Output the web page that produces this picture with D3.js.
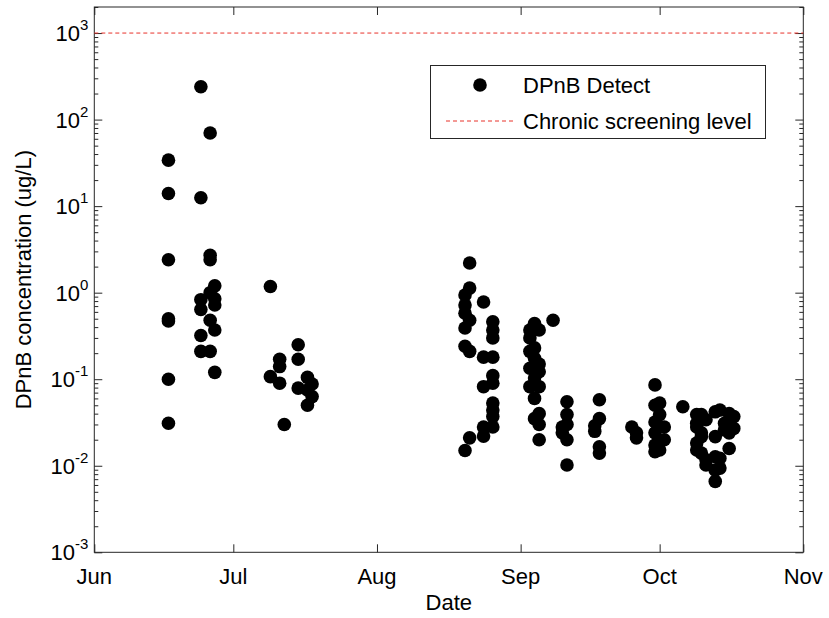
<!DOCTYPE html>
<html>
<head>
<meta charset="utf-8">
<script src="https://cdn.jsdelivr.net/npm/d3@7"></script>
<style>
  html, body { margin: 0; padding: 0; background: #fff; }
  svg { display: block; font-family: "Liberation Sans", Arial, Helvetica, sans-serif; }
</style>
</head>
<body>
<svg id="chart" width="829" height="618"></svg>
<script>
// Sampling dates and the DPnB detections measured on each date (ug/L)
const sampleDates = [
  "2014-06-17", "2014-06-24", "2014-06-26", "2014-06-27",
  "2014-07-09", "2014-07-11", "2014-07-12", "2014-07-15", "2014-07-17", "2014-07-18",
  "2014-08-20", "2014-08-21", "2014-08-24", "2014-08-26",
  "2014-09-03", "2014-09-04", "2014-09-05", "2014-09-08", "2014-09-10", "2014-09-11",
  "2014-09-17", "2014-09-18", "2014-09-25", "2014-09-26", "2014-09-30",
  "2014-10-01", "2014-10-02", "2014-10-06", "2014-10-09", "2014-10-10", "2014-10-11",
  "2014-10-13", "2014-10-14", "2014-10-15", "2014-10-16", "2014-10-17"
];
const detectsByDate = [
  [34, 14, 2.4, 0.50, 0.47, 0.10, 0.031],
  [240, 12.5, 0.83, 0.64, 0.32, 0.21],
  [70, 2.7, 2.4, 1.0, 0.48, 0.21],
  [1.2, 0.85, 0.72, 0.37, 0.12],
  [1.18, 0.107],
  [0.17, 0.14, 0.09],
  [0.03],
  [0.25, 0.17, 0.079],
  [0.105, 0.075, 0.050],
  [0.088, 0.063],
  [0.94, 0.72, 0.58, 0.39, 0.24, 0.015],
  [2.2, 1.13, 0.48, 0.21, 0.021],
  [0.78, 0.18, 0.082, 0.028, 0.022],
  [0.46, 0.37, 0.30, 0.18, 0.11, 0.09, 0.053, 0.044, 0.037, 0.028],
  [0.37, 0.30, 0.21, 0.134, 0.082],
  [0.44, 0.23, 0.175, 0.103, 0.06, 0.035],
  [0.37, 0.15, 0.122, 0.082, 0.04, 0.03, 0.02],
  [0.48],
  [0.028, 0.024],
  [0.055, 0.039, 0.03, 0.02, 0.0102],
  [0.029, 0.025],
  [0.058, 0.035, 0.0166, 0.014],
  [0.028],
  [0.024, 0.021],
  [0.086, 0.05, 0.032, 0.024, 0.0174, 0.0145],
  [0.053, 0.039, 0.0152],
  [0.028, 0.02],
  [0.048],
  [0.039, 0.031, 0.028, 0.0183, 0.0152],
  [0.039, 0.024, 0.0217, 0.014],
  [0.034, 0.0117, 0.0102],
  [0.042, 0.0217, 0.0127, 0.0089, 0.0066],
  [0.044, 0.0122, 0.0094],
  [0.031, 0.026],
  [0.040, 0.024, 0.0158],
  [0.037, 0.027]
];

// Chronic screening level (ug/L)
const screeningLevel = [1000];

// Axis ticks
const monthTicks = ["2014-06-01", "2014-07-01", "2014-08-01", "2014-09-01", "2014-10-01", "2014-11-01"];
const monthLabels = ["Jun", "Jul", "Aug", "Sep", "Oct", "Nov"];
const decadeExponents = [-3, -2, -1, 0, 1, 2, 3];

const legendLabels = ["DPnB Detect", "Chronic screening level"];
const axisTitles = { x: "Date", y: "DPnB concentration (ug/L)" };

const parse = d3.timeParse("%Y-%m-%d");
const points = [];
sampleDates.forEach((d, i) => {
  detectsByDate[i].forEach(v => points.push({ date: parse(d), value: v }));
});

const svg = d3.select("#chart");
const plot = { left: 94.3, right: 803.3, top: 7, bottom: 552.3 };

const x = d3.scaleTime()
  .domain([parse(monthTicks[0]), parse(monthTicks[monthTicks.length - 1])])
  .range([plot.left, plot.right]);
const y = d3.scaleLog()
  .domain([1e-3, 2e3])
  .range([plot.bottom, plot.top]);

const axisColor = "#262626";
const fontSize = 22;

// Minor tick positions for the log axis
const minorTicks = [];
for (let e = -3; e <= 3; e++) {
  for (let m = 2; m <= 9; m++) {
    const v = m * Math.pow(10, e);
    if (v <= 2e3) minorTicks.push(v);
  }
}
const majorTicks = decadeExponents.map(e => Math.pow(10, e));

// Plot frame
svg.append("rect")
  .attr("x", plot.left).attr("y", plot.top)
  .attr("width", plot.right - plot.left).attr("height", plot.bottom - plot.top)
  .attr("fill", "#fff").attr("stroke", axisColor).attr("stroke-width", 1);

function styleAxis(g) {
  g.select(".domain").remove();
  g.selectAll(".tick line").attr("stroke", axisColor).attr("stroke-width", 1);
  g.selectAll(".tick text").remove();
}

// Y ticks on left and right edges (pointing inward)
svg.append("g").attr("transform", `translate(${plot.left},0)`)
  .call(d3.axisLeft(y).tickValues(minorTicks).tickSize(-4)).call(styleAxis);
svg.append("g").attr("transform", `translate(${plot.left},0)`)
  .call(d3.axisLeft(y).tickValues(majorTicks).tickSize(-8)).call(styleAxis);
svg.append("g").attr("transform", `translate(${plot.right},0)`)
  .call(d3.axisRight(y).tickValues(minorTicks).tickSize(-4)).call(styleAxis);
svg.append("g").attr("transform", `translate(${plot.right},0)`)
  .call(d3.axisRight(y).tickValues(majorTicks).tickSize(-8)).call(styleAxis);

// X ticks on bottom and top edges (pointing inward)
const monthDates = monthTicks.map(parse);
svg.append("g").attr("transform", `translate(0,${plot.bottom})`)
  .call(d3.axisBottom(x).tickValues(monthDates).tickSize(-8)).call(styleAxis);
svg.append("g").attr("transform", `translate(0,${plot.top})`)
  .call(d3.axisTop(x).tickValues(monthDates).tickSize(-8)).call(styleAxis);

// Y tick labels as powers of ten
const yLabels = svg.append("g").attr("font-size", fontSize).attr("fill", "#000");
decadeExponents.forEach(e => {
  const t = yLabels.append("text")
    .attr("x", plot.left - 6)
    .attr("y", y(Math.pow(10, e)) + 8)
    .attr("text-anchor", "end");
  t.append("tspan").text("10");
  t.append("tspan").attr("dy", -11).attr("font-size", 15).text(String(e).replace("-", "-"));
});

// X tick labels
const xLabels = svg.append("g").attr("font-size", fontSize).attr("fill", "#000");
monthDates.forEach((d, i) => {
  xLabels.append("text")
    .attr("x", x(d)).attr("y", plot.bottom + 32)
    .attr("text-anchor", "middle")
    .text(monthLabels[i]);
});

// Axis titles
svg.append("text")
  .attr("x", (plot.left + plot.right) / 2).attr("y", 610)
  .attr("text-anchor", "middle").attr("font-size", fontSize).attr("fill", "#000")
  .text(axisTitles.x);
svg.append("text")
  .attr("transform", `translate(31,${(plot.top + plot.bottom) / 2}) rotate(-90)`)
  .attr("text-anchor", "middle").attr("font-size", fontSize).attr("fill", "#000")
  .text(axisTitles.y);

// Screening level line
svg.append("g").selectAll("line").data(screeningLevel).join("line")
  .attr("x1", plot.left).attr("x2", plot.right)
  .attr("y1", d => y(d)).attr("y2", d => y(d))
  .attr("stroke", "#e8322a").attr("stroke-width", 1)
  .attr("stroke-dasharray", "4,3");

// Detections
svg.append("g").selectAll("circle").data(points).join("circle")
  .attr("cx", d => x(d.date))
  .attr("cy", d => y(d.value))
  .attr("r", 6.8)
  .attr("fill", "#000");

// Legend
const legend = svg.append("g");
legend.append("rect")
  .attr("x", 430.5).attr("y", 65.5).attr("width", 335).attr("height", 73)
  .attr("fill", "#fff").attr("stroke", axisColor).attr("stroke-width", 1);
legend.append("circle").attr("cx", 480).attr("cy", 85).attr("r", 6.8).attr("fill", "#000");
legend.append("line")
  .attr("x1", 446).attr("x2", 514).attr("y1", 121).attr("y2", 121)
  .attr("stroke", "#e8322a").attr("stroke-width", 1).attr("stroke-dasharray", "4,3");
legend.selectAll("text").data(legendLabels).join("text")
  .attr("x", 523).attr("y", (d, i) => 93 + i * 36)
  .attr("font-size", fontSize).attr("fill", "#000")
  .text(d => d);
</script>
</body>
</html>
